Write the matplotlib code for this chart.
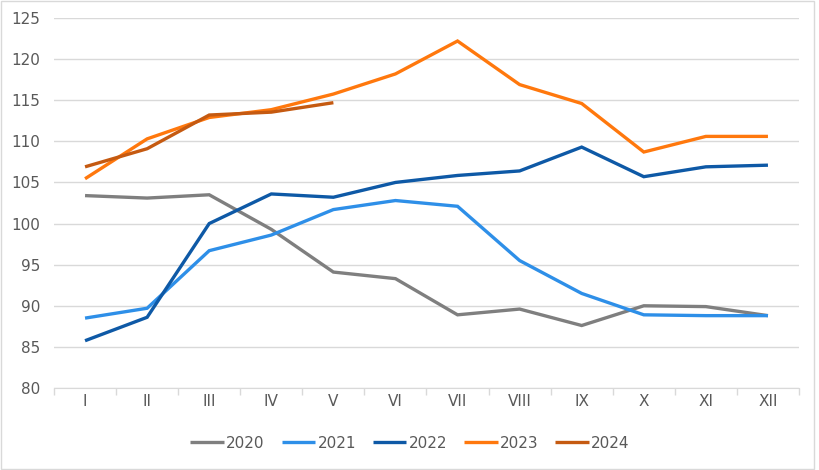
import matplotlib
matplotlib.use("Agg")
import matplotlib.pyplot as plt
from matplotlib.patches import Rectangle
import numpy as np

months = ['I', 'II', 'III', 'IV', 'V', 'VI', 'VII', 'VIII', 'IX', 'X', 'XI', 'XII']

y2020 = [103.4, 103.1, 103.5, 99.3, 94.1, 93.3, 88.9, 89.6, 87.6, 90.0, 89.9, 88.8]
y2021 = [88.5, 89.7, 96.7, 98.6, 101.7, 102.8, 102.1, 95.5, 91.5, 88.9, 88.8, 88.8]
y2022 = [85.75, 88.6, 100.0, 103.6, 103.2, 105.0, 105.85, 106.4, 109.3, 105.7, 106.9, 107.1]
y2023 = [105.45, 110.3, 112.9, 113.85, 115.75, 118.2, 122.2, 116.9, 114.6, 108.7, 110.6, 110.6]
y2024 = [106.9, 109.1, 113.2, 113.55, 114.7]

series = [
    ('2020', y2020, '#7f7f7f'),
    ('2021', y2021, '#2e8fe8'),
    ('2022', y2022, '#0e59a6'),
    ('2023', y2023, '#ff780d'),
    ('2024', y2024, '#c55a11'),
]

plt.rcParams['font.family'] = ['DejaVu Sans']

fig = plt.figure(figsize=(8.2, 4.7), dpi=100)
ax = fig.add_axes([54 / 820, 1 - 388 / 470, (799 - 54) / 820, (388 - 18) / 470])

x = np.arange(len(months))
for name, vals, col in series:
    ax.plot(x[:len(vals)], vals, color=col, linewidth=2.4, label=name,
            solid_capstyle='butt', solid_joinstyle='miter')

ax.set_ylim(80, 125)
ax.set_xlim(-0.5, len(months) - 0.5)
ax.set_yticks(np.arange(80, 126, 5))
ax.yaxis.grid(True, color='#d9d9d9', linewidth=1)
ax.set_axisbelow(True)
ax.tick_params(axis='y', length=0, labelsize=11, labelcolor='#595959', pad=10)

ax.set_xticks(x)
ax.set_xticklabels(months)
ax.set_xticks(np.arange(-0.5, len(months), 1), minor=True)
ax.tick_params(axis='x', which='major', length=0, labelsize=11, labelcolor='#595959', pad=4)
ax.tick_params(axis='x', which='minor', length=5, color='#d9d9d9', width=1)

for s in ['top', 'right', 'left']:
    ax.spines[s].set_visible(False)
ax.spines['bottom'].set_color('#d9d9d9')

fig.legend(loc='center', bbox_to_anchor=(410 / 820, 1 - 443 / 470), ncol=5, frameon=False,
           fontsize=11, labelcolor='#595959', handlelength=2.2, handletextpad=0.15,
           columnspacing=1.1)

fig.patches.append(Rectangle((0.001, 0.002), 0.992, 0.996, transform=fig.transFigure,
                             fill=False, edgecolor='#d9d9d9', linewidth=1))

fig.savefig('out.png', dpi=100)
